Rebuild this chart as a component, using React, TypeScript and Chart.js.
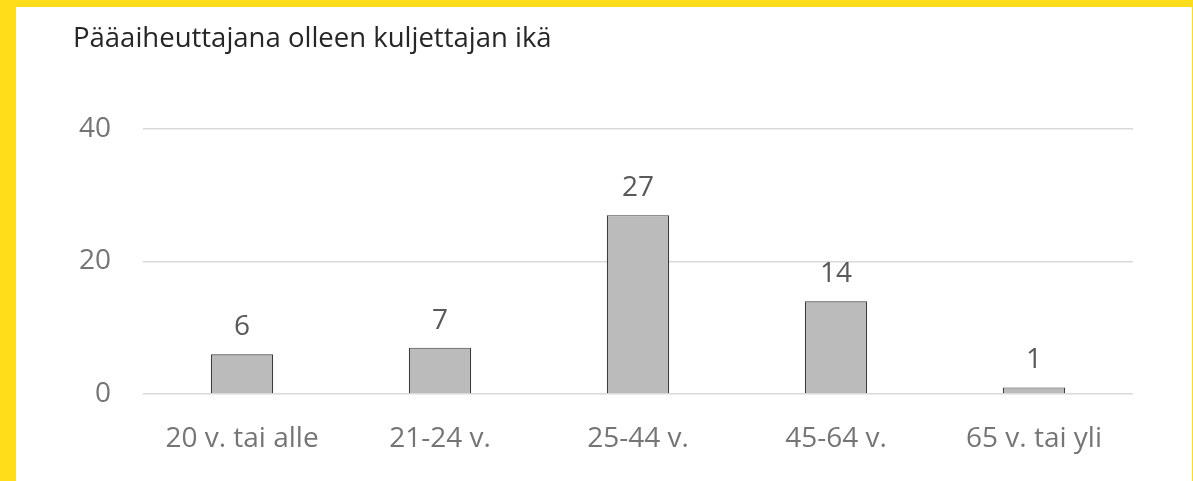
import React, { useEffect, useRef } from "react";
import { Chart, registerables } from "chart.js";

Chart.register(...registerables);

const titleText = "Pääaiheuttajana olleen kuljettajan ikä";
const categories = ["20 v. tai alle", "21-24 v.", "25-44 v.", "45-64 v.", "65 v. tai yli"];
const values = [6, 7, 27, 14, 1];
const yTicks = [0, 20, 40];

const FONT = "'Open Sans', 'Noto Sans', sans-serif";

const titlePlugin = {
  id: "customTitle",
  afterDraw(chart: any) {
    const ctx = chart.ctx;
    ctx.save();
    ctx.font = `27.5px ${FONT}`;
    ctx.fillStyle = "#262626";
    ctx.textAlign = "left";
    ctx.textBaseline = "alphabetic";
    ctx.fillText(titleText, 57, 40);
    ctx.restore();
  },
};

const dataLabelPlugin = {
  id: "dataLabels",
  afterDatasetsDraw(chart: any) {
    const ctx = chart.ctx;
    ctx.save();
    ctx.font = `28px ${FONT}`;
    ctx.fillStyle = "#595959";
    ctx.textAlign = "center";
    ctx.textBaseline = "alphabetic";
    chart.data.datasets.forEach((ds: any, i: number) => {
      const meta = chart.getDatasetMeta(i);
      meta.data.forEach((el: any, j: number) => {
        ctx.fillText(String(ds.data[j]), el.x, el.y - 19);
      });
    });
    ctx.restore();
  },
};

export default function App() {
  const ref = useRef<HTMLCanvasElement | null>(null);

  useEffect(() => {
    if (!ref.current) return;
    const chart = new Chart(ref.current, {
      type: "bar",
      data: {
        labels: categories,
        datasets: [
          {
            data: values,
            backgroundColor: "#BBBBBB",
            borderColor: "#3C3C3C",
            borderWidth: 1.2,
            barPercentage: 0.315,
            categoryPercentage: 1,
          },
        ],
      },
      options: {
        animation: false,
        responsive: false,
        maintainAspectRatio: false,
        layout: { padding: { top: 122, right: 59, left: 0, bottom: 0 } },
        plugins: {
          legend: { display: false },
          title: { display: false },
          tooltip: { enabled: false },
        },
        scales: {
          x: {
            grid: { display: false, drawTicks: false },
            border: { display: false },
            ticks: {
              color: "#757575",
              font: { family: FONT, size: 28 },
              padding: 28,
              maxRotation: 0,
              autoSkip: false,
            },
            afterFit(scale: any) {
              scale.height = 87;
            },
          },
          y: {
            min: 0,
            max: 40,
            afterBuildTicks(scale: any) {
              scale.ticks = yTicks.map((v) => ({ value: v }));
            },
            grid: { color: "#D9D9D9", lineWidth: 1.5, drawTicks: false },
            border: { display: false },
            ticks: {
              color: "#757575",
              font: { family: FONT, size: 28 },
              padding: 32,
            },
            afterFit(scale: any) {
              scale.width = 127;
            },
          },
        },
      },
      plugins: [titlePlugin, dataLabelPlugin],
    });
    return () => chart.destroy();
  }, []);

  return (
    <div
      style={{
        position: "absolute",
        left: 0,
        top: 0,
        width: 1193,
        height: 481,
        background: "#FFDD1A",
      }}
    >
      <div
        style={{
          position: "absolute",
          left: 16,
          top: 7,
          width: 1176,
          height: 474,
          background: "#FFFFFF",
        }}
      >
        <canvas ref={ref} width={1176} height={474} style={{ display: "block" }} />
      </div>
    </div>
  );
}
